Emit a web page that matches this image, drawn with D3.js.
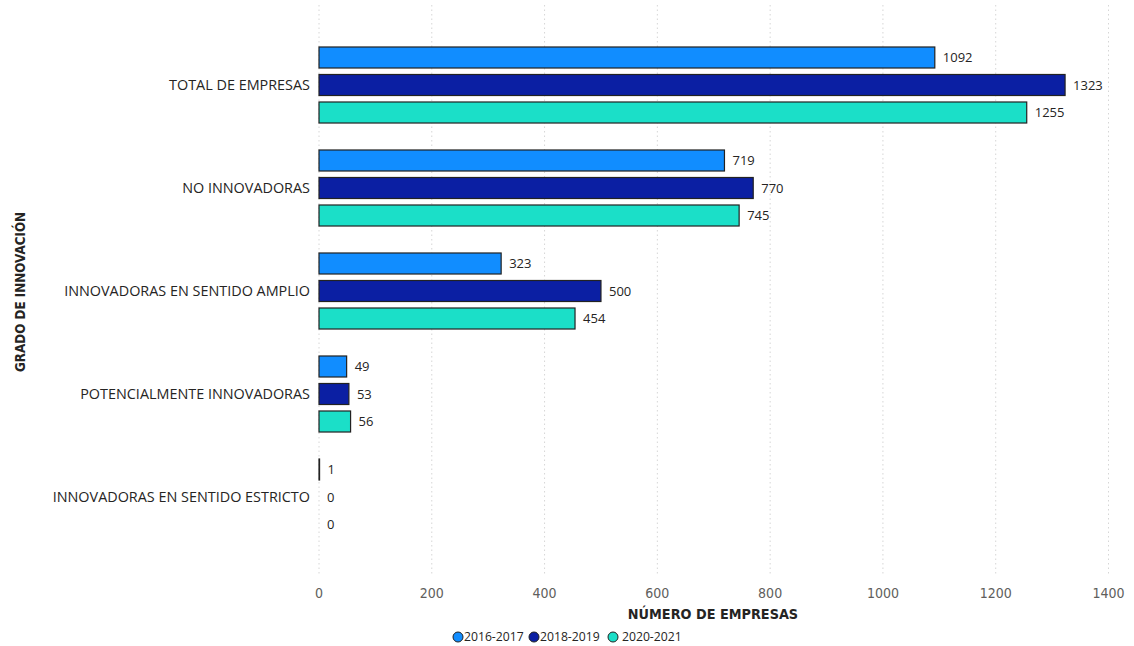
<!DOCTYPE html>
<html>
<head>
<meta charset="utf-8">
<script src="https://cdn.jsdelivr.net/npm/d3@7"></script>
<style>
  body { margin: 0; background: #fff; }
  svg { display: block; }
</style>
</head>
<body>
<svg id="chart" width="1134" height="646"></svg>
<script>
const categories = [
  "TOTAL DE EMPRESAS",
  "NO INNOVADORAS",
  "INNOVADORAS EN SENTIDO AMPLIO",
  "POTENCIALMENTE INNOVADORAS",
  "INNOVADORAS EN SENTIDO ESTRICTO"
];
const seriesNames = ["2016-2017", "2018-2019", "2020-2021"];
const values2016 = [1092, 719, 323, 49, 1];
const values2018 = [1323, 770, 500, 53, 0];
const values2020 = [1255, 745, 454, 56, 0];
const xTicks = [0, 200, 400, 600, 800, 1000, 1200, 1400];
const colors = ["#118DFF", "#0B1FA3", "#1BDFC8"];

const seriesValues = [values2016, values2018, values2020];
const svg = d3.select("#chart");
const bodyFont = "'Open Sans', 'Noto Sans', sans-serif";
const titleFont = "'DejaVu Sans Condensed', 'Liberation Sans Narrow', sans-serif";

const x = d3.scaleLinear().domain([0, 1400]).range([319, 1108.5]);
const y0 = d3.scaleBand().domain(categories).range([33.5, 548.5])
  .paddingInner(0.262).paddingOuter(0.131);
const y1 = d3.scaleBand().domain(seriesNames).range([0, y0.bandwidth()])
  .paddingInner(0.236).paddingOuter(0);

// vertical dotted gridlines
svg.append("g").selectAll("line").data(xTicks).join("line")
  .attr("x1", d => x(d)).attr("x2", d => x(d))
  .attr("y1", 5).attr("y2", 576)
  .attr("stroke", "#d6d6d6").attr("stroke-width", 1)
  .attr("stroke-dasharray", "1.5,3");

// x tick labels
svg.append("g").selectAll("text").data(xTicks).join("text")
  .attr("x", d => x(d)).attr("y", 598)
  .attr("text-anchor", "middle")
  .attr("font-family", titleFont).attr("font-size", 14)
  .attr("fill", "#605E5C")
  .text(d => d);

// category labels
svg.append("g").selectAll("text").data(categories).join("text")
  .attr("x", 310).attr("y", d => y0(d) + y0.bandwidth() / 2)
  .attr("dy", "0.35em").attr("text-anchor", "end")
  .attr("font-family", bodyFont).attr("font-size", 14.4)
  .attr("fill", "#252423")
  .text(d => d);

// bars and value labels
const rows = [];
categories.forEach((c, i) => {
  seriesNames.forEach((s, j) => rows.push({ c, s, j, v: seriesValues[j][i] }));
});

const g = svg.append("g");
g.selectAll("rect").data(rows.filter(d => d.v > 0)).join("rect")
  .attr("x", x(0))
  .attr("y", d => y0(d.c) + y1(d.s))
  .attr("width", d => Math.max(0, x(d.v) - x(0)))
  .attr("height", y1.bandwidth())
  .attr("fill", d => colors[d.j])
  .attr("stroke", "#222")
  .attr("stroke-width", 1.2);

g.selectAll("text").data(rows).join("text")
  .attr("x", d => x(d.v) + 8)
  .attr("y", d => y0(d.c) + y1(d.s) + y1.bandwidth() / 2)
  .attr("dy", "0.35em")
  .attr("font-family", bodyFont).attr("font-size", 13)
  .attr("fill", "#252423")
  .text(d => d.v);

// axis titles
svg.append("text")
  .attr("x", 713).attr("y", 619)
  .attr("text-anchor", "middle")
  .attr("font-family", titleFont).attr("font-size", 14.3).attr("font-weight", "bold")
  .attr("fill", "#252423")
  .text("NÚMERO DE EMPRESAS");

svg.append("text")
  .attr("transform", "translate(25,292) rotate(-90)")
  .attr("text-anchor", "middle")
  .attr("font-family", titleFont).attr("font-size", 13.3).attr("font-weight", "bold")
  .attr("fill", "#252423")
  .text("GRADO DE INNOVACIÓN");

// legend
const legendX = [458, 534, 613];
const legendTextDx = [6, 6, 9];
const legend = svg.append("g").selectAll("g").data(seriesNames).join("g")
  .attr("transform", (d, i) => `translate(${legendX[i]},637)`);
legend.append("circle").attr("r", 5)
  .attr("fill", (d, i) => colors[i]).attr("stroke", "#222").attr("stroke-width", 1);
legend.append("text")
  .attr("x", (d, i) => legendTextDx[i]).attr("dy", "0.35em")
  .attr("font-family", bodyFont).attr("font-size", 12.2)
  .attr("fill", "#252423")
  .text(d => d);
</script>
</body>
</html>
